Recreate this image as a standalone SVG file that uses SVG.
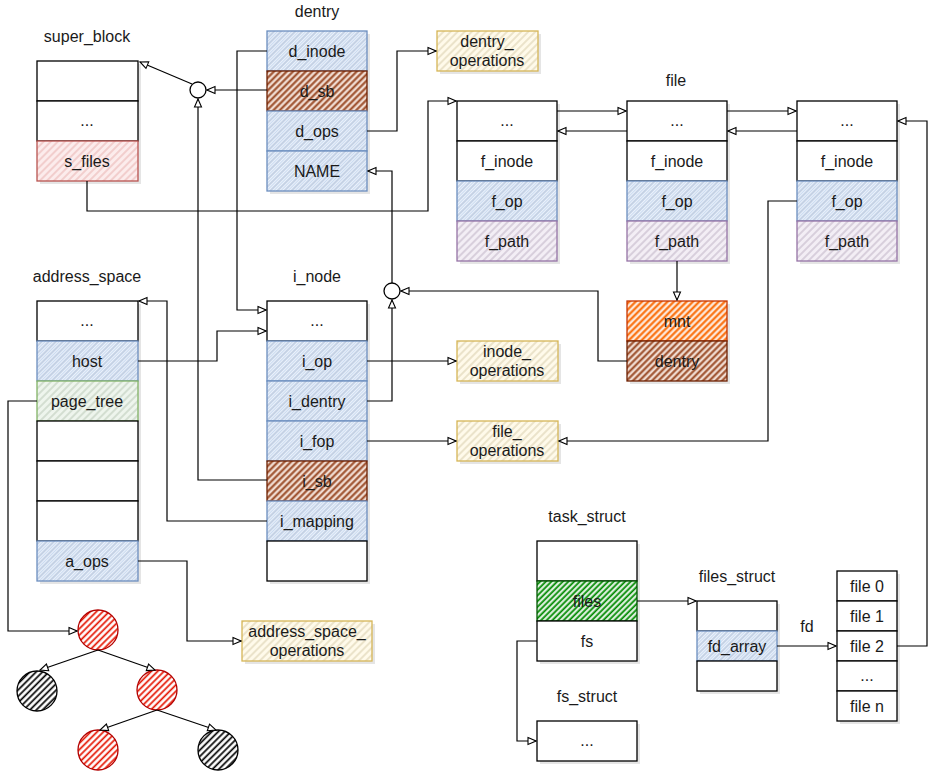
<svg xmlns="http://www.w3.org/2000/svg" width="938" height="774" viewBox="0 0 938 774">
<style>
text{font-family:"Liberation Sans",Arial,sans-serif;font-size:16px;fill:#1a1a1a;text-anchor:middle}
.w{fill:#fff;stroke:#000;stroke-width:1.3}
.sh{fill:#000;opacity:0.1}
.blue{fill:url(#hBlue);stroke:#6c8ebf;stroke-width:1.3}
.red{fill:url(#hRed);stroke:#b85450;stroke-width:1.3}
.yel{fill:url(#hYel);stroke:#d6b656;stroke-width:1.3}
.pur{fill:url(#hPur);stroke:#9673a6;stroke-width:1.3}
.grn{fill:url(#hGrn);stroke:#82b366;stroke-width:1.3}
.brn{fill:url(#hBrn);stroke:#6D1F00;stroke-width:1.3}
.org{fill:url(#hOrg);stroke:#C73500;stroke-width:1.3}
.dgrn{fill:url(#hDGrn);stroke:#005700;stroke-width:1.3}
.rc{fill:url(#hRC);stroke:#B20000;stroke-width:1.3}
.bc{fill:url(#hBC);stroke:#000;stroke-width:1.3}
.j{fill:#fff;stroke:#000;stroke-width:1.3}
#edges path{fill:none;stroke:#000;stroke-width:1.2;marker-end:url(#arr)}
</style>
<defs>
<marker id="arr" markerUnits="userSpaceOnUse" markerWidth="10" markerHeight="10" refX="9" refY="5" orient="auto">
<path d="M1,1.5 L9,5 L1,8.5 Z" fill="#fff" stroke="#000" stroke-width="1.1"/>
</marker>
<pattern id="hBlue" patternUnits="userSpaceOnUse" width="5" height="5" patternTransform="rotate(45)">
<rect width="5" height="5" fill="#eaf1fb"/><line x1="1" y1="0" x2="1" y2="5" stroke="#a0b4d0" stroke-width="1"/><line x1="3.5" y1="0" x2="3.5" y2="5" stroke="#c3d5ee" stroke-width="0.8"/>
</pattern>
<pattern id="hRed" patternUnits="userSpaceOnUse" width="5" height="5" patternTransform="rotate(45)">
<rect width="5" height="5" fill="#fcecec"/><line x1="1" y1="0" x2="1" y2="5" stroke="#e8b0ae" stroke-width="1"/>
</pattern>
<pattern id="hYel" patternUnits="userSpaceOnUse" width="5" height="5" patternTransform="rotate(45)">
<rect width="5" height="5" fill="#fffaea"/><line x1="1" y1="0" x2="1" y2="5" stroke="#d8ccaa" stroke-width="1"/>
</pattern>
<pattern id="hPur" patternUnits="userSpaceOnUse" width="5" height="5" patternTransform="rotate(45)">
<rect width="5" height="5" fill="#f3eef5"/><line x1="1" y1="0" x2="1" y2="5" stroke="#bdb0c4" stroke-width="1"/>
</pattern>
<pattern id="hGrn" patternUnits="userSpaceOnUse" width="5" height="5" patternTransform="rotate(45)">
<rect width="5" height="5" fill="#eef5ed"/><line x1="1" y1="0" x2="1" y2="5" stroke="#b8c8b6" stroke-width="1"/>
</pattern>
<pattern id="hBrn" patternUnits="userSpaceOnUse" width="4.5" height="4.5" patternTransform="rotate(45)">
<rect width="4.5" height="4.5" fill="#f0dcd2"/><line x1="1.3" y1="0" x2="1.3" y2="4.5" stroke="#9a4a26" stroke-width="2"/>
</pattern>
<pattern id="hOrg" patternUnits="userSpaceOnUse" width="4.5" height="4.5" patternTransform="rotate(45)">
<rect width="4.5" height="4.5" fill="#fde8da"/><line x1="1.3" y1="0" x2="1.3" y2="4.5" stroke="#fa6800" stroke-width="2"/>
</pattern>
<pattern id="hDGrn" patternUnits="userSpaceOnUse" width="4" height="4" patternTransform="rotate(45)">
<rect width="4" height="4" fill="#e6f3e6"/><line x1="1.2" y1="0" x2="1.2" y2="4" stroke="#008a00" stroke-width="1.8"/>
</pattern>
<pattern id="hRC" patternUnits="userSpaceOnUse" width="4.5" height="4.5" patternTransform="rotate(45)">
<rect width="4.5" height="4.5" fill="#fff"/><line x1="1.2" y1="0" x2="1.2" y2="4.5" stroke="#e51400" stroke-width="1.7"/>
</pattern>
<pattern id="hBC" patternUnits="userSpaceOnUse" width="4.5" height="4.5" patternTransform="rotate(45)">
<rect width="4.5" height="4.5" fill="#fff"/><line x1="1.2" y1="0" x2="1.2" y2="4.5" stroke="#000" stroke-width="1.7"/>
</pattern>
</defs>
<rect width="938" height="774" fill="#fff"/>

<g id="super_block">
<text x="87" y="42">super_block</text>
<rect class="sh" x="40" y="64" width="101" height="120"/>
<rect class="w" x="37" y="61" width="101" height="40"/>
<rect class="w" x="37" y="101" width="101" height="40"/><text x="87" y="126">...</text>
<rect class="red" x="37" y="141" width="101" height="40"/><text x="87" y="167">s_files</text>
</g>

<g id="dentry">
<text x="317" y="17">dentry</text>
<rect class="sh" x="270" y="34" width="100" height="160"/>
<rect class="blue" x="267" y="31" width="100" height="40"/><text x="317" y="57">d_inode</text>
<rect class="brn" x="267" y="71" width="100" height="40"/><text x="317" y="97">d_sb</text>
<rect class="blue" x="267" y="111" width="100" height="40"/><text x="317" y="137">d_ops</text>
<rect class="blue" x="267" y="151" width="100" height="40"/><text x="317" y="177">NAME</text>
</g>

<g id="dentry_operations">
<rect class="sh" x="440" y="34" width="101" height="40"/>
<rect class="yel" x="437" y="31" width="101" height="40"/>
<text x="487" y="47">dentry_</text><text x="487" y="66">operations</text>
</g>

<g id="junction1"><circle class="j" cx="198" cy="90" r="8"/></g>
<g id="junction2"><circle class="j" cx="392" cy="291" r="8"/></g>

<text x="676" y="86">file</text>
<g id="file1">
<rect class="sh" x="460" y="104" width="100" height="160"/>
<rect class="w" x="457" y="101" width="100" height="40"/><text x="507" y="126">...</text>
<rect class="w" x="457" y="141" width="100" height="40"/><text x="507" y="167">f_inode</text>
<rect class="blue" x="457" y="181" width="100" height="40"/><text x="507" y="207">f_op</text>
<rect class="pur" x="457" y="221" width="100" height="40"/><text x="507" y="247">f_path</text>
</g>
<g id="file2">
<rect class="sh" x="630" y="104" width="100" height="160"/>
<rect class="w" x="627" y="101" width="100" height="40"/><text x="677" y="126">...</text>
<rect class="w" x="627" y="141" width="100" height="40"/><text x="677" y="167">f_inode</text>
<rect class="blue" x="627" y="181" width="100" height="40"/><text x="677" y="207">f_op</text>
<rect class="pur" x="627" y="221" width="100" height="40"/><text x="677" y="247">f_path</text>
</g>
<g id="file3">
<rect class="sh" x="800" y="104" width="100" height="160"/>
<rect class="w" x="797" y="101" width="100" height="40"/><text x="847" y="126">...</text>
<rect class="w" x="797" y="141" width="100" height="40"/><text x="847" y="167">f_inode</text>
<rect class="blue" x="797" y="181" width="100" height="40"/><text x="847" y="207">f_op</text>
<rect class="pur" x="797" y="221" width="100" height="40"/><text x="847" y="247">f_path</text>
</g>

<g id="path">
<rect class="sh" x="630" y="304" width="100" height="80"/>
<rect class="org" x="627" y="301" width="100" height="40"/><text x="677" y="327">mnt</text>
<rect class="brn" x="627" y="341" width="100" height="40"/><text x="677" y="367">dentry</text>
</g>

<g id="address_space">
<text x="87" y="282">address_space</text>
<rect class="sh" x="40" y="304" width="101" height="280"/>
<rect class="w" x="37" y="301" width="101" height="40"/><text x="87" y="326">...</text>
<rect class="blue" x="37" y="341" width="101" height="40"/><text x="87" y="367">host</text>
<rect class="grn" x="37" y="381" width="101" height="40"/><text x="87" y="407">page_tree</text>
<rect class="w" x="37" y="421" width="101" height="40"/>
<rect class="w" x="37" y="461" width="101" height="40"/>
<rect class="w" x="37" y="501" width="101" height="40"/>
<rect class="blue" x="37" y="541" width="101" height="40"/><text x="87" y="567">a_ops</text>
</g>

<g id="i_node">
<text x="317" y="282">i_node</text>
<rect class="sh" x="270" y="304" width="100" height="280"/>
<rect class="w" x="267" y="301" width="100" height="40"/><text x="317" y="326">...</text>
<rect class="blue" x="267" y="341" width="100" height="40"/><text x="317" y="367">i_op</text>
<rect class="blue" x="267" y="381" width="100" height="40"/><text x="317" y="407">i_dentry</text>
<rect class="blue" x="267" y="421" width="100" height="40"/><text x="317" y="447">i_fop</text>
<rect class="brn" x="267" y="461" width="100" height="40"/><text x="317" y="487">i_sb</text>
<rect class="blue" x="267" y="501" width="100" height="40"/><text x="317" y="527">i_mapping</text>
<rect class="w" x="267" y="541" width="100" height="40"/>
</g>

<g id="inode_operations">
<rect class="sh" x="460" y="344" width="101" height="40"/>
<rect class="yel" x="457" y="341" width="101" height="40"/>
<text x="507" y="357">inode_</text><text x="507" y="376">operations</text>
</g>
<g id="file_operations">
<rect class="sh" x="460" y="424" width="101" height="40"/>
<rect class="yel" x="457" y="421" width="101" height="40"/>
<text x="507" y="437">file_</text><text x="507" y="456">operations</text>
</g>
<g id="address_space_operations">
<rect class="sh" x="245" y="624" width="130" height="40"/>
<rect class="yel" x="242" y="621" width="130" height="40"/>
<text x="307" y="637">address_space_</text><text x="307" y="656">operations</text>
</g>

<g id="task_struct">
<text x="587" y="522">task_struct</text>
<rect class="sh" x="540" y="544" width="100" height="120"/>
<rect class="w" x="537" y="541" width="100" height="40"/>
<rect class="dgrn" x="537" y="581" width="100" height="40"/><text x="587" y="607">files</text>
<rect class="w" x="537" y="621" width="100" height="40"/><text x="587" y="647">fs</text>
</g>
<g id="fs_struct">
<text x="587" y="702">fs_struct</text>
<rect class="sh" x="540" y="724" width="100" height="40"/>
<rect class="w" x="537" y="721" width="100" height="40"/><text x="587" y="746">...</text>
</g>
<g id="files_struct">
<text x="737" y="582">files_struct</text>
<rect class="sh" x="700" y="604" width="80" height="90"/>
<rect class="w" x="697" y="601" width="80" height="30"/>
<rect class="blue" x="697" y="631" width="80" height="30"/><text x="737" y="652">fd_array</text>
<rect class="w" x="697" y="661" width="80" height="30"/>
</g>
<g id="fd_table">
<rect class="sh" x="840" y="574" width="60" height="150"/>
<rect class="w" x="837" y="571" width="60" height="30"/><text x="867" y="592">file 0</text>
<rect class="w" x="837" y="601" width="60" height="30"/><text x="867" y="622">file 1</text>
<rect class="w" x="837" y="631" width="60" height="30"/><text x="867" y="652">file 2</text>
<rect class="w" x="837" y="661" width="60" height="30"/><text x="867" y="681">...</text>
<rect class="w" x="837" y="691" width="60" height="30"/><text x="867" y="712">file n</text>
</g>

<g id="rbtree">
<circle class="rc" cx="98" cy="630" r="20"/>
<circle class="bc" cx="37" cy="691" r="20"/>
<circle class="rc" cx="157" cy="690" r="20"/>
<circle class="rc" cx="98" cy="750" r="20"/>
<circle class="bc" cx="218" cy="750" r="20"/>
</g>

<g id="edges">
<path d="M267,90 L207,90"/>
<path d="M192,84 L140,62"/>
<path d="M267,480 L198,480 L198,99"/>
<path d="M267,51 L237,51 L237,310 L266,310"/>
<path d="M367,131 L397,131 L397,51 L436,51"/>
<path d="M87,181 L87,211 L428,211 L428,101 L456,101"/>
<path d="M557,111 L626,111"/>
<path d="M627,131 L558,131"/>
<path d="M727,111 L796,111"/>
<path d="M797,131 L728,131"/>
<path d="M677,261 L677,300"/>
<path d="M627,361 L598,361 L598,291 L401,291"/>
<path d="M367,401 L392,401 L392,300"/>
<path d="M392,283 L392,171 L368,171"/>
<path d="M367,361 L456,361"/>
<path d="M367,441 L456,441"/>
<path d="M797,201 L768,201 L768,441 L559,441"/>
<path d="M138,361 L217,361 L217,331 L266,331"/>
<path d="M267,521 L167,521 L167,301 L139,301"/>
<path d="M138,561 L187,561 L187,641 L241,641"/>
<path d="M37,401 L8,401 L8,631 L77,631"/>
<path d="M98,650 L40,670"/>
<path d="M98,650 L155,670"/>
<path d="M157,710 L100,730"/>
<path d="M157,710 L216,730"/>
<path d="M637,601 L696,601"/>
<path d="M537,641 L517,641 L517,741 L536,741"/>
<path d="M777,646 L836,646"/>
<path d="M897,646 L927,646 L927,121 L898,121"/>
</g>
<text x="807" y="632">fd</text>
</svg>
